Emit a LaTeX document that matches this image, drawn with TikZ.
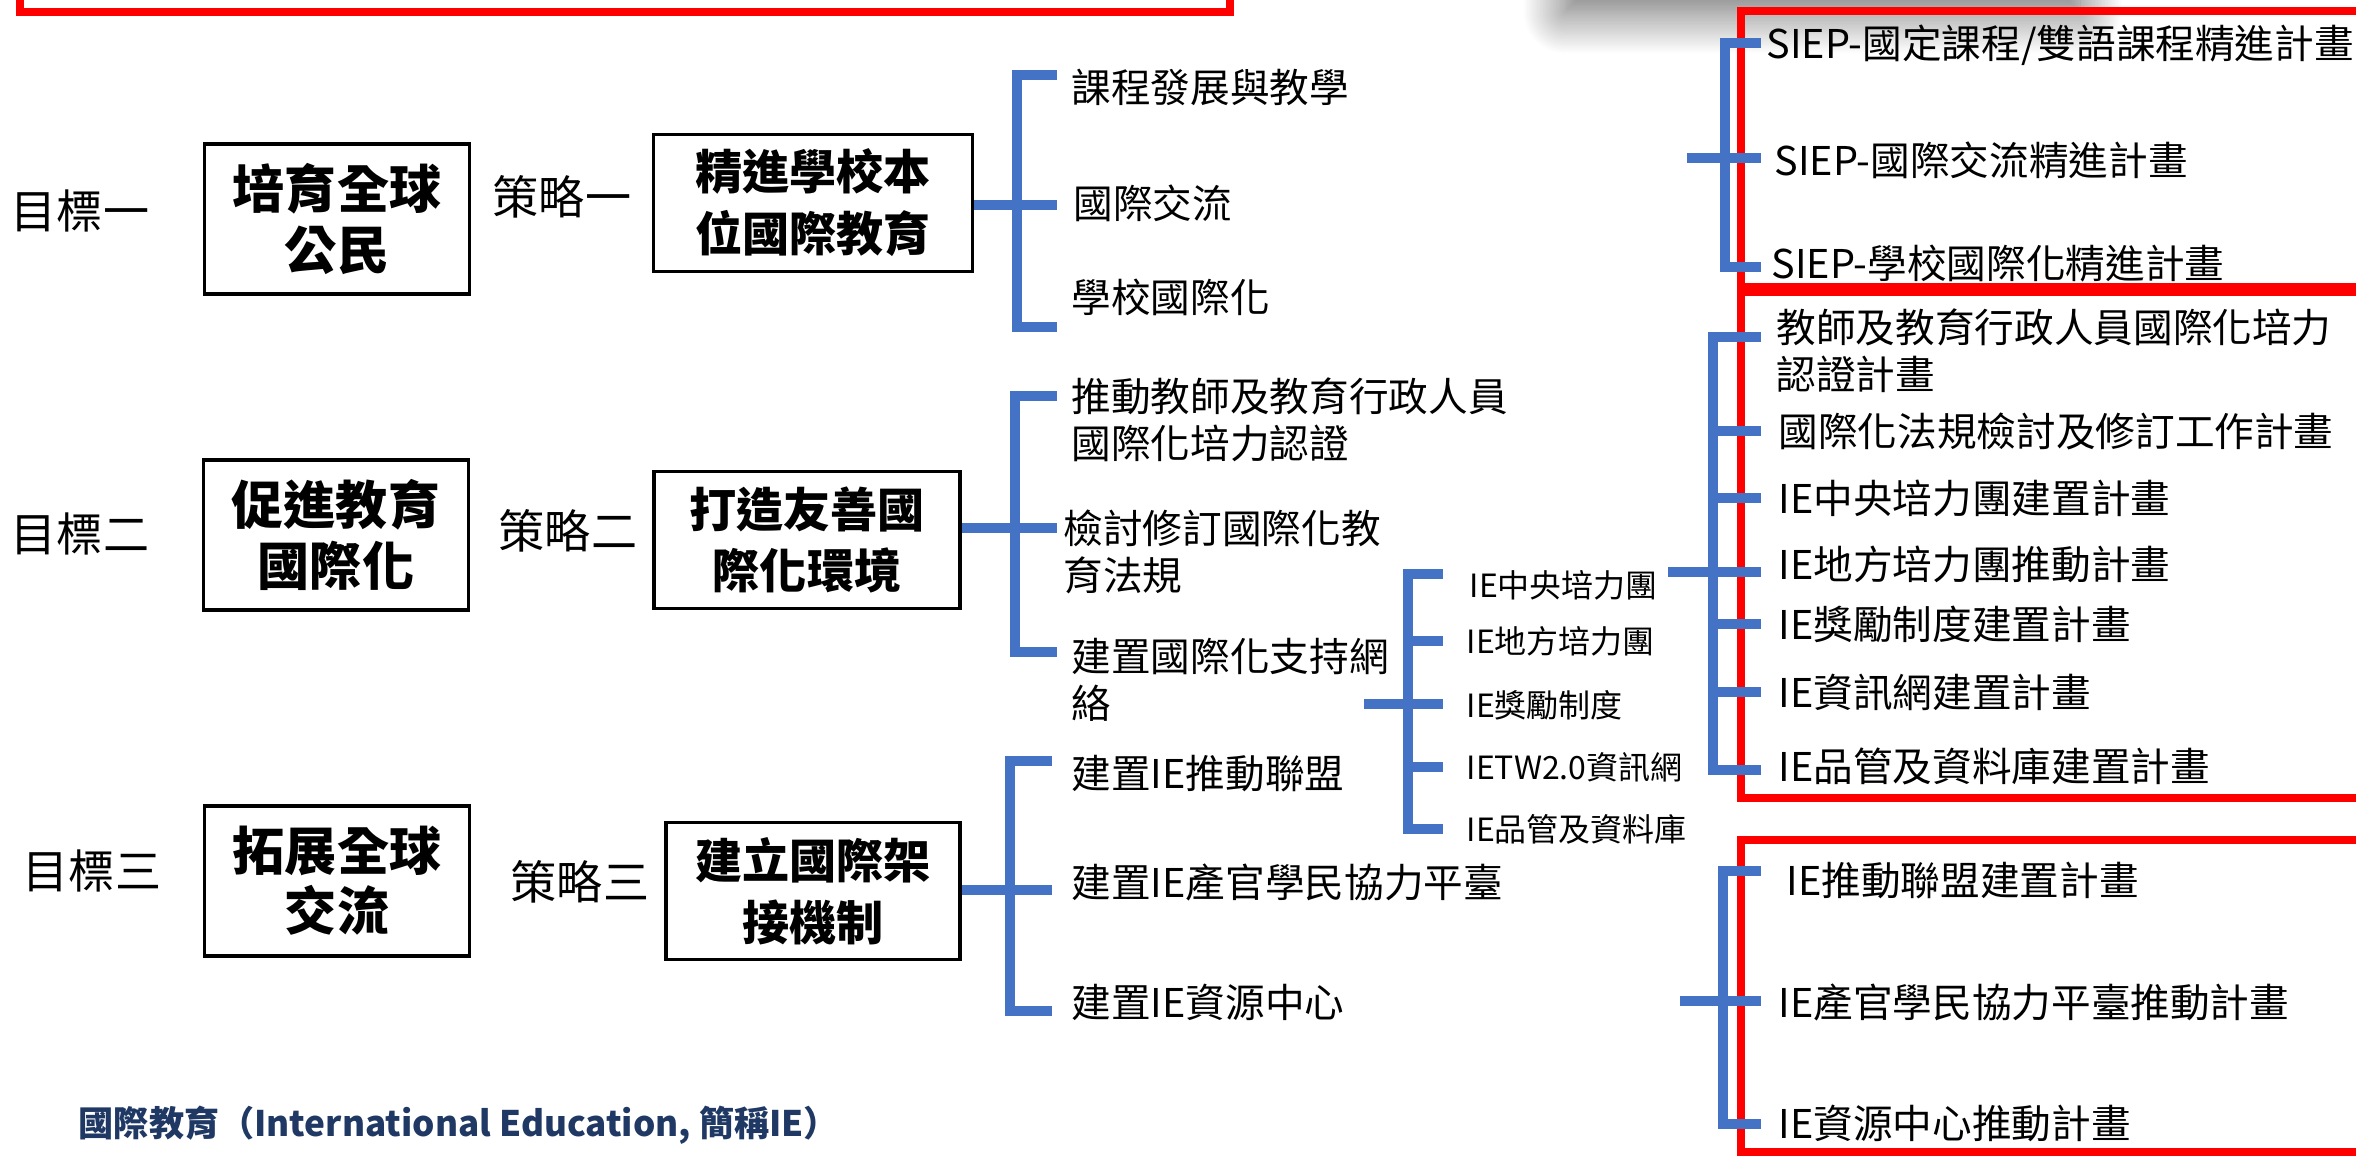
\documentclass[tikz,border=0pt]{standalone}
\usepackage{fontspec}
\setmainfont{Noto Sans CJK TC}
\usepackage{xcolor}
\usetikzlibrary{shadows.blur}
\definecolor{iebrace}{RGB}{68,114,196}
\definecolor{ienavy}{RGB}{31,56,100}
\tikzset{
	goalbox/.style={draw, line width=1pt, minimum width=2.65cm, minimum height=1.5cm,
			align=center, inner sep=0pt, font=\fontsize{14.8}{17.1}\selectfont\bfseries},
	stratbox/.style={draw, line width=1pt, minimum height=1.37cm,
			align=center, inner sep=0pt, font=\fontsize{13.4}{17.6}\selectfont\bfseries},
	rowlabel/.style={inner sep=0pt, font=\fontsize{13.1}{15}\selectfont},
	itemtext/.style={anchor=west, inner sep=0pt, align=left, font=\fontsize{11.27}{13.4}\selectfont},
	subtext/.style={anchor=west, inner sep=0pt, font=\fontsize{9.1}{11}\selectfont},
	bline/.style={draw=iebrace, line width=2.6pt},
	redframe/.style={draw=red, line width=2.3pt}
}

\begin{document}
\begin{tikzpicture}[x=0.01cm, y=-0.01cm]
        \useasboundingbox (0,0) rectangle (2356,1160);

        % Shadow of the box above the page
        \path[fill=white, blur shadow={shadow xshift=0pt, shadow yshift=-9pt,
                shadow blur radius=12pt, shadow blur steps=30, shadow opacity=60}]
            (1565,-150) rectangle (2080,-20);

        % Red frames
        \draw[redframe] (20,-50) rectangle (1230,12);
        \draw[redframe] (1741,11) rectangle (2420,287);
        \draw[redframe] (1741,292) rectangle (2420,798);
        \draw[redframe] (1741,840) rectangle (2420,1152);

        % Goals
        \node[rowlabel] (l1) at (80,211) {目標一};
        \node[rowlabel] (l2) at (80,534) {目標二};
        \node[rowlabel] (l3) at (92,871) {目標三};
        \node[goalbox] (g1) at (337,219) {培育全球\\公民};
        \node[goalbox] (g2) at (336,535) {促進教育\\國際化};
        \node[goalbox] (g3) at (337,881) {拓展全球\\交流};

        % Strategies
        \node[rowlabel] (m1) at (562,197) {策略一};
        \node[rowlabel] (m2) at (568,531) {策略二};
        \node[rowlabel] (m3) at (580,882) {策略三};
        \node[stratbox, minimum width=3.19cm] (s1) at (813,203) {精進學校本\\位國際教育};
        \node[stratbox, minimum width=3.06cm] (s2) at (807,540) {打造友善國\\際化環境};
        \node[stratbox, minimum width=2.94cm] (s3) at (813,891) {建立國際架\\接機制};

        % Strategy items
        \node[itemtext] (t1) at (1071,87) {課程發展與教學};
        \node[itemtext] (t2) at (1073,203) {國際交流};
        \node[itemtext] (t3) at (1071,297) {學校國際化};
        \node[itemtext] (t4) at (1071,420) {推動教師及教育行政人員\\國際化培力認證};
        \node[itemtext] (t5) at (1063,552) {檢討修訂國際化教\\育法規};
        \node[itemtext] (t6) at (1071,680) {建置國際化支持網\\絡};
        \node[itemtext] (t7) at (1071,774) {建置IE推動聯盟};
        \node[itemtext] (t8) at (1071,882) {建置IE產官學民協力平臺};
        \node[itemtext] (t9) at (1071,1002) {建置IE資源中心};

        % Support network
        \node[subtext] (n1) at (1469,585) {IE中央培力團};
        \node[subtext] (n2) at (1466,641) {IE地方培力團};
        \node[subtext] (n3) at (1466,705) {IE獎勵制度};
        \node[subtext] (n4) at (1466,767) {IETW2.0資訊網};
        \node[subtext] (n5) at (1466,829) {IE品管及資料庫};

        % Plans
        \node[itemtext] (q1) at (1766,45) {SIEP-國定課程/雙語課程精進計畫};
        \node[itemtext] (q2) at (1774,160) {SIEP-國際交流精進計畫};
        \node[itemtext] (q3) at (1771,264) {SIEP-學校國際化精進計畫};
        \node[itemtext] (p1) at (1776,351) {教師及教育行政人員國際化培力\\認證計畫};
        \node[itemtext] (p2) at (1778,431) {國際化法規檢討及修訂工作計畫};
        \node[itemtext] (p3) at (1778,498) {IE中央培力團建置計畫};
        \node[itemtext] (p4) at (1778,564) {IE地方培力團推動計畫};
        \node[itemtext] (p5) at (1778,624) {IE獎勵制度建置計畫};
        \node[itemtext] (p6) at (1778,692) {IE資訊網建置計畫};
        \node[itemtext] (p7) at (1778,766) {IE品管及資料庫建置計畫};
        \node[itemtext] (r1) at (1786,881) {IE推動聯盟建置計畫};
        \node[itemtext] (r2) at (1778,1002) {IE產官學民協力平臺推動計畫};
        \node[itemtext] (r3) at (1778,1123) {IE資源中心推動計畫};

        % Bracket points
        \coordinate (k1) at (1017,205);  \coordinate (k1t) at (1057,75);  \coordinate (k1b) at (1057,327);
        \coordinate (k2) at (1015,528);  \coordinate (k2t) at (1057,396); \coordinate (k2b) at (1057,652);
        \coordinate (k3) at (1010,890);  \coordinate (k3t) at (1052,761); \coordinate (k3b) at (1052,1011);
        \coordinate (k4) at (1408,704);  \coordinate (k4t) at (1443,574); \coordinate (k4b) at (1443,829);
        \coordinate (k5) at (1713,572);  \coordinate (k5t) at (1761,337); \coordinate (k5b) at (1761,770);
        \coordinate (k6) at (1725,158);  \coordinate (k6t) at (1761,43);  \coordinate (k6b) at (1761,267);
        \coordinate (k7) at (1723,1001); \coordinate (k7t) at (1761,871); \coordinate (k7b) at (1761,1124);
        \coordinate (c4) at (1364,704);
        \coordinate (c5) at (1668,572);
        \coordinate (c6) at (1687,158);
        \coordinate (c7) at (1680,1001);

        % Brackets
        \foreach \k in {k1,k2,k3,k4,k5,k6,k7} {
            \draw[bline] (\k t) -| (\k) |- (\k b);
        }
        \draw[bline] (s1.east |- k1) -- (k1 -| k1t);
        \draw[bline] (s2.east |- k2) -- (k2 -| k2t);
        \draw[bline] (s3.east |- k3) -- (k3 -| k3t);
        \draw[bline] (c4) -- (k4 -| k4t);
        \draw[bline] (c5) -- (k5 -| k5t);
        \draw[bline] (c6) -- (k6 -| k6t);
        \draw[bline] (c7) -- (k7 -| k7t);
        \foreach \n in {n2,n4} {
            \draw[bline] (k4 |- \n) -- (k4t |- \n);
        }
        \foreach \n in {p2,p3,p5,p6} {
            \draw[bline] (k5 |- \n) -- (k5t |- \n);
        }

        % Note
        \node[anchor=west, inner sep=0pt, text=ienavy, font=\fontsize{10}{12}\selectfont\bfseries]
            (ft) at (78,1125) {國際教育（International Education, 簡稱IE）};

    \end{tikzpicture}
\end{document}
